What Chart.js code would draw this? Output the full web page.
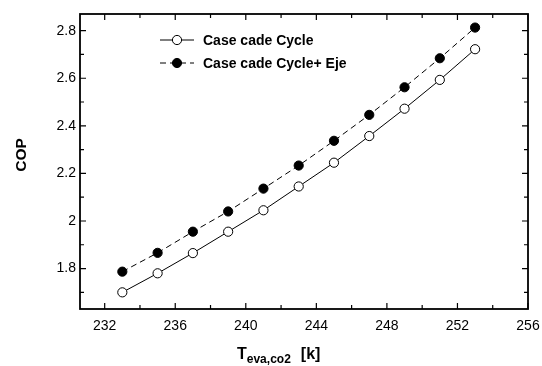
<!DOCTYPE html>
<html>
<head>
<meta charset="utf-8">
<script src="https://cdn.jsdelivr.net/npm/chart.js@4/dist/chart.umd.min.js"></script>
<style>
  html, body { margin: 0; padding: 0; background: #fff; }
  #wrap { width: 542px; height: 366px; }
</style>
</head>
<body>
<div id="wrap"><canvas id="copChart" width="542" height="366"></canvas></div>
<script>
// ---- data ----
const tempK = [233, 235, 237, 239, 241, 243, 245, 247, 249, 251, 253];
const copCascade = [1.700, 1.780, 1.865, 1.955, 2.045, 2.145, 2.245, 2.357, 2.472, 2.593, 2.722];
const copCascadeEje = [1.787, 1.866, 1.955, 2.040, 2.136, 2.233, 2.337, 2.446, 2.562, 2.684, 2.813];

const xMajor = [232, 236, 240, 244, 248, 252, 256];
const xMinor = [234, 238, 242, 246, 250, 254];
const yMajor = [1.8, 2.0, 2.2, 2.4, 2.6, 2.8];
const yMinor = [1.7, 1.9, 2.1, 2.3, 2.5, 2.7];

const seriesNames = ['Case cade Cycle', 'Case cade Cycle+ Eje'];

const FONT = '"Liberation Sans", Arial, sans-serif';

/* ========================
   frame, inward ticks, legend, axis titles
=========================*/
const originStyle = {
  id: 'originStyle',
  afterDraw(chart) {
    const { ctx, chartArea: a, scales: { x, y } } = chart;
    ctx.save();
    ctx.strokeStyle = '#000';
    ctx.lineWidth = 1.8;
    ctx.strokeRect(a.left, a.top, a.right - a.left, a.bottom - a.top);

    ctx.lineWidth = 1.2;
    ctx.beginPath();
    const tick = (vals, len) => {
      vals.forEach(v => {
        const px = x.getPixelForValue(v);
        if (px < a.left || px > a.right) return;
        ctx.moveTo(px, a.bottom); ctx.lineTo(px, a.bottom - len);
        ctx.moveTo(px, a.top); ctx.lineTo(px, a.top + len);
      });
    };
    const tickY = (vals, len) => {
      vals.forEach(v => {
        const py = y.getPixelForValue(v);
        if (py < a.top || py > a.bottom) return;
        ctx.moveTo(a.left, py); ctx.lineTo(a.left + len, py);
        ctx.moveTo(a.right, py); ctx.lineTo(a.right - len, py);
      });
    };
    tick(xMajor, 6); tick(xMinor, 4);
    tickY(yMajor, 6); tickY(yMinor, 4);
    ctx.stroke();

    // legend
    const rows = [
      { y: 40, dash: [], fill: '#fff' },
      { y: 63, dash: [6, 4], fill: '#000' }
    ];
    rows.forEach((r, i) => {
      ctx.setLineDash(r.dash);
      ctx.lineWidth = 1;
      ctx.beginPath();
      ctx.moveTo(160, r.y); ctx.lineTo(194, r.y);
      ctx.stroke();
      ctx.setLineDash([]);
      ctx.beginPath();
      ctx.arc(177, r.y, 4.6, 0, Math.PI * 2);
      ctx.fillStyle = r.fill;
      ctx.fill();
      ctx.stroke();
      ctx.fillStyle = '#000';
      ctx.font = 'bold 14px ' + FONT;
      ctx.textBaseline = 'middle';
      ctx.textAlign = 'left';
      ctx.fillText(seriesNames[i], 203, r.y + 1);
    });

    // y title
    ctx.save();
    ctx.translate(26, 155);
    ctx.rotate(-Math.PI / 2);
    ctx.font = 'bold 15.5px ' + FONT;
    ctx.textAlign = 'center';
    ctx.textBaseline = 'alphabetic';
    ctx.fillText('COP', 0, 0);
    ctx.restore();

    // x title with subscript
    ctx.textBaseline = 'alphabetic';
    ctx.textAlign = 'left';
    let tx = 237;
    ctx.font = 'bold 16px ' + FONT;
    ctx.fillText('T', tx, 359);
    tx += ctx.measureText('T').width;
    ctx.font = 'bold 12px ' + FONT;
    ctx.fillText('eva,co2', tx, 363);
    tx += ctx.measureText('eva,co2').width + 10;
    ctx.font = 'bold 16px ' + FONT;
    ctx.fillText('[k]', tx, 359);
    ctx.restore();
  }
};

const ctx = document.getElementById('copChart').getContext('2d');

new Chart(ctx, {
  type: 'line',
  data: {
    datasets: [
      {
        label: seriesNames[0],
        data: tempK.map((t, i) => ({ x: t, y: copCascade[i] })),
        borderColor: '#000',
        borderWidth: 1,
        pointRadius: 4.6,
        pointBackgroundColor: '#fff',
        pointBorderColor: '#000',
        pointBorderWidth: 1,
        tension: 0
      },
      {
        label: seriesNames[1],
        data: tempK.map((t, i) => ({ x: t, y: copCascadeEje[i] })),
        borderColor: '#000',
        borderWidth: 1,
        borderDash: [6, 4],
        pointRadius: 4.6,
        pointBackgroundColor: '#000',
        pointBorderColor: '#000',
        pointBorderWidth: 1,
        tension: 0
      }
    ]
  },
  options: {
    responsive: false,
    animation: false,
    layout: { padding: { left: 0, top: 14, right: 14, bottom: 0 } },
    plugins: { legend: { display: false }, tooltip: { enabled: false } },
    scales: {
      x: {
        type: 'linear',
        min: 230.6,
        max: 256,
        afterBuildTicks: s => { s.ticks = xMajor.map(v => ({ value: v })); },
        afterFit: s => { s.height = 57; s.paddingLeft = 0; s.paddingRight = 0; },
        grid: { display: false, drawTicks: false },
        border: { display: false },
        ticks: {
          color: '#000',
          padding: 9,
          maxRotation: 0,
          font: { family: FONT, size: 14 }
        }
      },
      y: {
        min: 1.63,
        max: 2.87,
        afterBuildTicks: s => { s.ticks = yMajor.map(v => ({ value: v })); },
        afterFit: s => { s.width = 80; s.paddingTop = 0; s.paddingBottom = 0; },
        grid: { display: false, drawTicks: false },
        border: { display: false },
        ticks: {
          color: '#000',
          padding: 4,
          font: { family: FONT, size: 14 },
          callback: v => String(Math.round(v * 10) / 10)
        }
      }
    }
  },
  plugins: [originStyle]
});
</script>
</body>
</html>
